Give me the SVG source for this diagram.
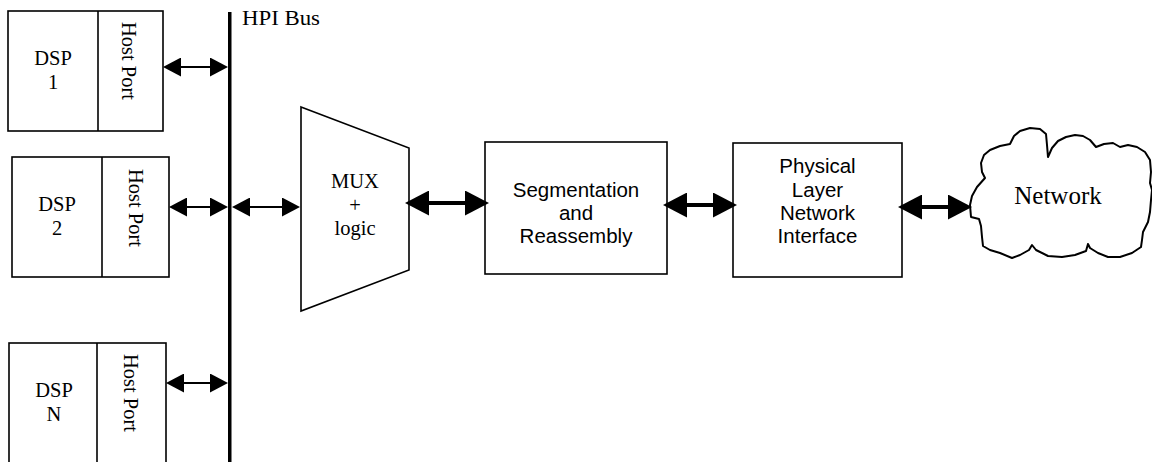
<svg xmlns="http://www.w3.org/2000/svg" width="1152" height="462" viewBox="0 0 1152 462">
  <style>
    .box { fill: #fff; stroke: #000; stroke-width: 1.6; }
    .serif { font-family: "Liberation Serif", "Times New Roman", serif; fill: #000; }
    .sans { font-family: "Liberation Sans", Arial, sans-serif; fill: #000; }
    .lbl { font-size: 20.5px; text-anchor: middle; }
    .thin { stroke: #000; stroke-width: 2; fill: none; marker-start: url(#headThin); marker-end: url(#headThin); }
    .thick { stroke: #000; stroke-width: 4; fill: none; marker-start: url(#headThick); marker-end: url(#headThick); }
  </style>
  <defs>
    <marker id="headThin" markerUnits="userSpaceOnUse" markerWidth="18" markerHeight="19" refX="8" refY="9.5" orient="auto-start-reverse">
      <path d="M0,0 L18,9.5 L0,19 Z" fill="#000"/>
    </marker>
    <marker id="headThick" markerUnits="userSpaceOnUse" markerWidth="24" markerHeight="25" refX="10" refY="12.5" orient="auto-start-reverse">
      <path d="M0,0 L24,12.5 L0,25 Z" fill="#000"/>
    </marker>
  </defs>
  <rect width="1152" height="462" fill="#fff"/>

  <!-- shared HPI bus -->
  <g id="hpi-bus">
    <rect x="228" y="12" width="3.5" height="450" fill="#000"/>
    <text class="serif" x="242" y="25" font-size="21" textLength="78" lengthAdjust="spacingAndGlyphs">HPI Bus</text>
  </g>

  <g id="dsp1">
    <rect class="box" x="8" y="11" width="155" height="120"/>
    <line x1="98" y1="11" x2="98" y2="131" stroke="#000" stroke-width="1.6"/>
    <text class="serif lbl" x="53" y="65">DSP</text>
    <text class="serif lbl" x="53" y="89">1</text>
    <text class="serif lbl" transform="translate(122,61) rotate(90)">Host Port</text>
  </g>

  <g id="dsp2">
    <rect class="box" x="12" y="157" width="157" height="120"/>
    <line x1="102" y1="157" x2="102" y2="277" stroke="#000" stroke-width="1.6"/>
    <text class="serif lbl" x="57" y="211">DSP</text>
    <text class="serif lbl" x="57" y="235">2</text>
    <text class="serif lbl" transform="translate(129,208) rotate(90)">Host Port</text>
  </g>

  <g id="dspN">
    <rect class="box" x="9" y="343" width="157" height="130"/>
    <line x1="97" y1="343" x2="97" y2="473" stroke="#000" stroke-width="1.6"/>
    <text class="serif lbl" x="54" y="397">DSP</text>
    <text class="serif lbl" x="54" y="421">N</text>
    <text class="serif lbl" transform="translate(124,393) rotate(90)">Host Port</text>
  </g>

  <g id="mux">
    <polygon class="box" points="301,107 409,148 409,270 301,311"/>
    <text class="serif lbl" x="355" y="188">MUX</text>
    <text class="serif lbl" x="355" y="212">+</text>
    <text class="serif lbl" x="355" y="235">logic</text>
  </g>

  <g id="sar">
    <rect class="box" x="485" y="142" width="182" height="132"/>
    <text class="sans lbl" x="576" y="197">Segmentation</text>
    <text class="sans lbl" x="576" y="220">and</text>
    <text class="sans lbl" x="576" y="243">Reassembly</text>
  </g>

  <g id="phy">
    <rect class="box" x="733" y="143" width="169" height="134"/>
    <text class="sans lbl" x="817.5" y="173">Physical</text>
    <text class="sans lbl" x="817.5" y="197">Layer</text>
    <text class="sans lbl" x="817.5" y="220">Network</text>
    <text class="sans lbl" x="817.5" y="243">Interface</text>
  </g>

  <g id="network">
    <path fill="#fff" stroke="#000" stroke-width="2" stroke-linejoin="round"
      d="M971,217 L970,205 L972,196 L977,187 L985,178 L982,172 L981,163 L984,155 L990,150 L1000,146 L1010,144 L1014,136 L1020,131 L1030,128 L1040,129 L1046,134 L1047,145 L1048,157 L1052,148 L1058,141 L1066,137 L1075,135 L1083,136 L1090,140 L1096,147 L1104,144 L1113,143 L1120,147 L1128,145 L1137,147 L1145,152 L1150,160 L1151,172 L1150,183 L1152,190 L1151,200 L1150,212 L1148,222 L1143,232 L1142,240 L1141,247 L1132,253 L1120,257 L1108,257 L1098,253 L1090,248 L1088,244 L1086,251 L1075,255 L1062,257 L1048,256 L1036,250 L1032,245 L1029,250 L1020,255 L1012,258 L1000,253 L990,250 L983,246 L982,237 L981,226 L979,219 Z"/>
    <text class="serif" x="1058" y="204" font-size="25" text-anchor="middle">Network</text>
  </g>

  <!-- connectors: line ends sit 10px inside each arrow tip -->
  <g id="connectors">
    <line class="thin" x1="173" y1="67" x2="218" y2="67"/>
    <line class="thin" x1="179" y1="207" x2="218" y2="207"/>
    <line class="thin" x1="242" y1="207" x2="290" y2="207"/>
    <line class="thin" x1="176" y1="383" x2="218" y2="383"/>
    <line class="thick" x1="419" y1="203" x2="475" y2="203"/>
    <line class="thick" x1="677" y1="205" x2="723" y2="205"/>
    <line class="thick" x1="912" y1="207" x2="958" y2="207"/>
  </g>
</svg>
